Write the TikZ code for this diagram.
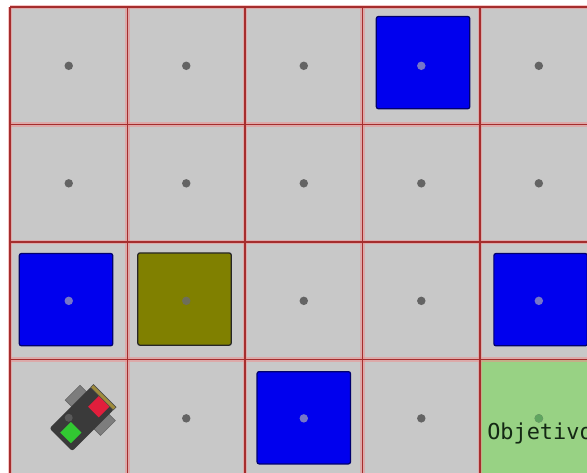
\documentclass[tikz,border=0pt]{standalone}
\usepackage{fontspec}
\usepackage{tikz}
\usetikzlibrary{calc}
\usetikzlibrary{positioning}
\newfontfamily\labelmono{DejaVu Sans Mono}
\definecolor{cellgray}{RGB}{200,200,200}
\definecolor{gridred}{RGB}{165,45,45}
\definecolor{gridpink}{RGB}{240,140,140}
\definecolor{boxblue}{RGB}{0,0,238}
\definecolor{boxnavy}{RGB}{0,0,110}
\definecolor{boxolive}{RGB}{128,128,0}
\definecolor{goalgreen}{RGB}{152,210,132}
\definecolor{dotgray}{RGB}{100,100,100}
\definecolor{dotblue}{RGB}{118,118,200}
\definecolor{dotolive}{RGB}{110,110,90}
\definecolor{dotgreen}{RGB}{96,165,96}
\definecolor{botbody}{RGB}{58,58,58}
\definecolor{botwheel}{RGB}{125,125,125}
\definecolor{botred}{RGB}{225,30,60}
\definecolor{botgreen}{RGB}{50,200,50}
\definecolor{botbumper}{RGB}{160,140,60}
\tikzset{
  cell/.style={rectangle,fill=cellgray,inner sep=0pt,outer sep=0pt,
    minimum width=2cm,minimum height=2cm},
  blk/.style={rectangle,inner sep=0pt,rounded corners=1pt,line width=0.6pt,
    minimum width=15.9mm,minimum height=15.7mm},
  bluebox/.style={blk,fill=boxblue,draw=boxnavy},
  olivebox/.style={blk,fill=boxolive,draw=black!85},
  goaltext/.style={anchor=base,text={rgb,255:red,20;green,40;blue,20},
    font=\labelmono\fontsize{10.6}{12}\selectfont,inner sep=0pt}
}
\begin{document}
\begin{tikzpicture}[x=2cm,y=-2cm]
  \useasboundingbox (-0.085,-0.06) rectangle (4.91,3.964);
  \fill[white] (-0.085,-0.06) rectangle (4.91,3.964);
  \clip (-0.085,-0.06) rectangle (4.91,3.964);

  % floor cells
  \foreach \c in {0,...,4}
    \foreach \r in {0,...,3}
      \node[cell] (c-\c-\r) at (\c+0.5,\r+0.5) {};
  \fill[goalgreen] (c-4-3.north west) rectangle (c-4-3.south east);

  % cell centres
  \foreach \c in {0,...,4}
    \foreach \r in {0,...,3}
      \fill[dotgray] (c-\c-\r) circle (0.72mm);

  % obstacles
  \foreach \c/\r/\dx/\dy in {3/0/0.015/-0.027, 0/2/-0.023/-0.01, 4/2/0.015/-0.01, 2/3/0/-0.005} {
    \node[bluebox] (blk-\c-\r) at ($(c-\c-\r)+(\dx,\dy)$) {};
    \fill[dotblue] (c-\c-\r) circle (0.72mm);
  }
  \node[olivebox] (blk-1-2) at ($(c-1-2)+(-0.015,-0.015)$) {};
  \fill[dotolive] (c-1-2) circle (0.72mm);
  \fill[dotgreen] (c-4-3) circle (0.72mm);

  \node[goaltext] (goal) at ($(c-4-3)+(0.01,0.183)$) {Objetivo};

  % robot, drawn in pixel units along its heading
  \coordinate (bot) at (0.62,3.495);
  \begin{scope}[shift={(bot)},rotate=45,x=0.1702mm,y=0.1702mm]
    \fill[botwheel,draw=black!60,line width=0.3pt] (0,15) rectangle (21,25);
    \fill[botwheel,draw=black!60,line width=0.3pt] (0,-15) rectangle (21,-25);
    \fill[botbody,rounded corners=1pt] (-31,-16) rectangle (28,16);
    \fill[botbumper,draw=black!70,line width=0.3pt] (27,-16) rectangle (31,16);
    \fill[gray!70!black] (-10,10) circle (4);
    \fill[botred] (11.5,-11) rectangle (26.5,4);
    \fill[botgreen] (-26.5,-9.5) rectangle (-11.5,5.5);
  \end{scope}

  % grid lines with their soft edge
  \foreach \i in {0,...,5}
    \draw[gridpink,opacity=0.5,line width=2.2pt] (\i,0) -- (\i,4.2);
  \foreach \j in {0,...,4}
    \draw[gridpink,opacity=0.5,line width=2.2pt] (0,\j) -- (5.2,\j);
  \foreach \i in {0,...,5}
    \draw[gridred,line width=0.7pt] (\i,0) -- (\i,4.2);
  \foreach \j in {0,...,4}
    \draw[gridred,line width=0.7pt] (0,\j) -- (5.2,\j);
\end{tikzpicture}
\end{document}
